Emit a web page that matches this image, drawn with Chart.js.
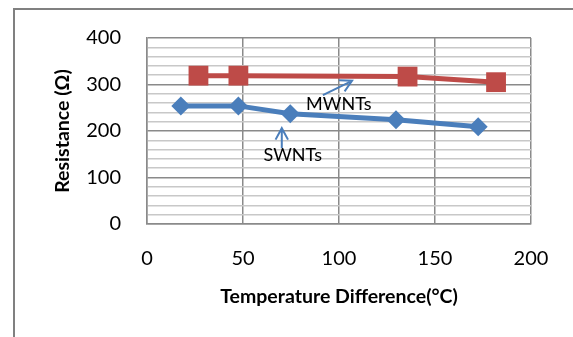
<!DOCTYPE html>
<html>
<head>
<meta charset="utf-8">
<script src="https://cdn.jsdelivr.net/npm/chart.js@4.4.1/dist/chart.umd.min.js"></script>
<style>
  html, body { margin: 0; padding: 0; background: #fff; }
  #wrap { width: 573px; height: 337px; }
</style>
</head>
<body>
<div id="wrap"><canvas id="chart" width="573" height="337"></canvas></div>
<script>
// Resistance vs temperature difference
const swntTemp = [17.6, 47.6, 74.6, 129.7, 172.5];
const swntRes = [254, 254, 237, 224, 209];
const mwntTemp = [26.8, 47.6, 135.7, 181.8];
const mwntRes = [319, 319, 317, 305];
const xTicks = [0, 50, 100, 150, 200];
const yTicks = [0, 100, 200, 300, 400];
const yMinorStep = 20;

// callout labels with their arrows, in axis units
const notes = [
  { text: 'MWNTs', at: [99.9, 257], from: [91.6, 277], to: [106.8, 308] },
  { text: 'SWNTs', at: [75.9, 147], from: [70.2, 163], to: [70.2, 206] }
];

const FONT = 'Lato, "Open Sans", sans-serif';
const MAJOR = '#8a8a8a';
const MINOR = '#c8c8c8';
const BLUE = '#4a7ebb';
const RED = '#be4b48';

const toPts = (xs, ys) => xs.map((x, i) => ({ x: x, y: ys[i] }));

// grey frame round the whole picture (left and top edges only show)
const framePlugin = {
  id: 'frame',
  beforeDraw(chart) {
    const ctx = chart.ctx;
    ctx.save();
    ctx.fillStyle = '#fff';
    ctx.fillRect(0, 0, chart.width, chart.height);
    ctx.strokeStyle = '#808080';
    ctx.lineWidth = 2;
    ctx.beginPath();
    ctx.moveTo(14, chart.height);
    ctx.lineTo(14, 9);
    ctx.lineTo(chart.width, 9);
    ctx.stroke();
    ctx.restore();
  }
};

// arrows + text for the two series
const notesPlugin = {
  id: 'notes',
  afterDatasetsDraw(chart) {
    const ctx = chart.ctx;
    const sx = chart.scales.x, sy = chart.scales.y;
    ctx.save();
    notes.forEach(n => {
      const x1 = sx.getPixelForValue(n.from[0]), y1 = sy.getPixelForValue(n.from[1]);
      const x2 = sx.getPixelForValue(n.to[0]), y2 = sy.getPixelForValue(n.to[1]);
      const ang = Math.atan2(y2 - y1, x2 - x1);
      const head = 13, spread = 0.5;
      ctx.strokeStyle = BLUE;
      ctx.lineWidth = 2;
      ctx.beginPath();
      ctx.moveTo(x1, y1);
      ctx.lineTo(x2, y2);
      ctx.moveTo(x2 - head * Math.cos(ang - spread), y2 - head * Math.sin(ang - spread));
      ctx.lineTo(x2, y2);
      ctx.lineTo(x2 - head * Math.cos(ang + spread), y2 - head * Math.sin(ang + spread));
      ctx.stroke();

      ctx.fillStyle = '#000';
      ctx.font = '18px ' + FONT;
      ctx.textAlign = 'center';
      ctx.textBaseline = 'middle';
      ctx.fillText(n.text, sx.getPixelForValue(n.at[0]), sy.getPixelForValue(n.at[1]));
    });
    ctx.restore();
  }
};

new Chart(document.getElementById('chart'), {
  type: 'line',
  data: {
    datasets: [
      {
        label: 'SWNTs',
        data: toPts(swntTemp, swntRes),
        borderColor: BLUE,
        backgroundColor: BLUE,
        borderWidth: 5,
        pointStyle: 'rectRot',
        pointRadius: 9.5,
        pointBorderWidth: 0,
        tension: 0
      },
      {
        label: 'MWNTs',
        data: toPts(mwntTemp, mwntRes),
        borderColor: RED,
        backgroundColor: RED,
        borderWidth: 5,
        pointStyle: 'rect',
        pointRadius: 14,
        pointBorderWidth: 0,
        tension: 0
      }
    ]
  },
  options: {
    responsive: false,
    animation: false,
    layout: { padding: { left: 0, top: 38, right: 42, bottom: 0 } },
    plugins: {
      legend: { display: false },
      tooltip: { enabled: false }
    },
    scales: {
      x: {
        type: 'linear',
        min: 0,
        max: 200,
        afterBuildTicks: s => { s.ticks = xTicks.map(v => ({ value: v })); },
        afterFit: s => { s.height = 113; },
        grid: { color: MAJOR, lineWidth: 1.5, drawTicks: false },
        border: { color: MAJOR, width: 1.5 },
        ticks: {
          autoSkip: false,
          maxRotation: 0,
          padding: 23,
          color: '#000',
          font: { family: FONT, size: 20 }
        },
        title: {
          display: true,
          text: 'Temperature Difference(°C)',
          color: '#000',
          font: { family: FONT, size: 19.5, weight: 'bold' },
          padding: { top: 29, bottom: 29 }
        }
      },
      y: {
        type: 'linear',
        min: 0,
        max: 400,
        afterBuildTicks: s => {
          const t = [];
          for (let v = 0; v <= 400; v += yMinorStep) t.push({ value: v });
          s.ticks = t;
        },
        afterFit: s => { s.width = 147; },
        grid: {
          color: c => (c.tick && c.tick.value % 100 === 0 ? MAJOR : MINOR),
          lineWidth: 1.5,
          drawTicks: false
        },
        border: { color: MAJOR, width: 1.5 },
        ticks: {
          autoSkip: false,
          padding: 26,
          color: '#000',
          font: { family: FONT, size: 20 },
          callback: v => (yTicks.includes(v) ? String(v) : '')
        },
        title: {
          display: true,
          text: 'Resistance (Ω)',
          color: '#000',
          font: { family: FONT, size: 19.5, weight: 'bold' },
          padding: { top: 51, bottom: 51 }
        }
      }
    }
  },
  plugins: [framePlugin, notesPlugin]
});
</script>
</body>
</html>
